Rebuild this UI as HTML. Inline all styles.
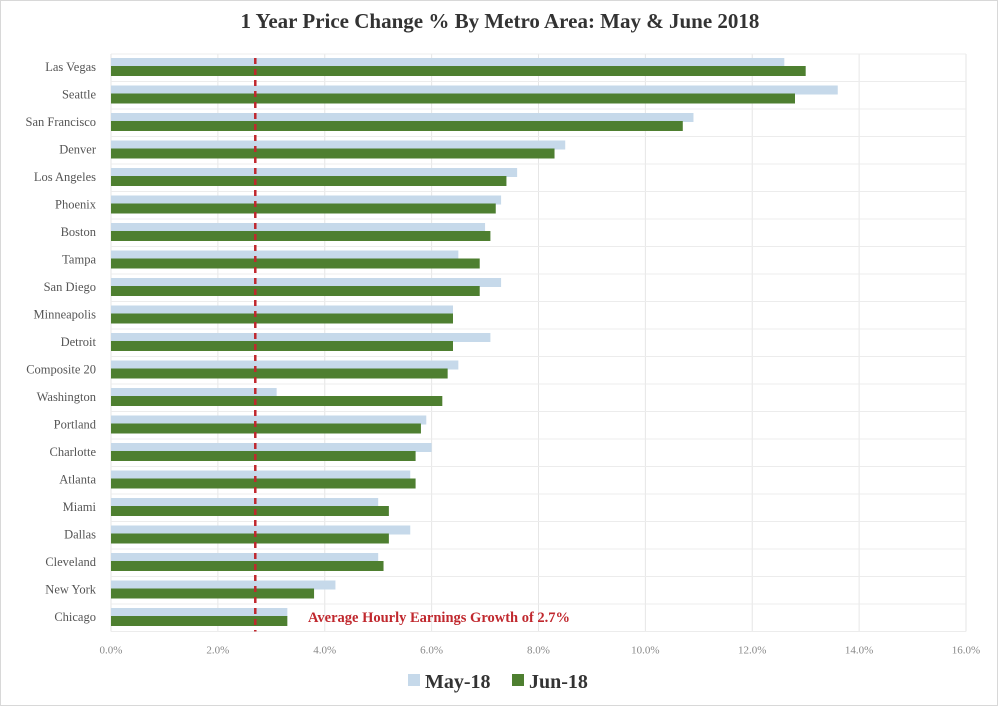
<!DOCTYPE html>
<html><head><meta charset="utf-8"><style>
html,body{margin:0;padding:0;background:#fff;}
svg{display:block;font-family:"Liberation Serif",serif;}
</style></head><body>
<svg id="chart" width="1000" height="709" viewBox="0 0 1000 709">
<rect x="0.5" y="0.5" width="997" height="705" fill="#fff" stroke="#d8d8d8"/>
<text x="500" y="28" text-anchor="middle" font-size="21" font-weight="bold" fill="#333">1 Year Price Change % By Metro Area: May &amp; June 2018</text>
<g id="grid"></g><g id="bars"></g><g id="labels"></g>
<text x="308" y="622" font-size="14.5" font-weight="bold" fill="#c0282e">Average Hourly Earnings Growth of 2.7%</text>
<g>
<rect x="408" y="674" width="12" height="12" fill="#c6d9ea"/>
<text x="425" y="688" font-size="20" font-weight="bold" fill="#333">May-18</text>
<rect x="512" y="674" width="12" height="12" fill="#4e7f30"/>
<text x="529" y="688" font-size="20" font-weight="bold" fill="#333">Jun-18</text>
</g>
</svg>
<script>
const categories=["Las Vegas","Seattle","San Francisco","Denver","Los Angeles","Phoenix","Boston","Tampa","San Diego","Minneapolis","Detroit","Composite 20","Washington","Portland","Charlotte","Atlanta","Miami","Dallas","Cleveland","New York","Chicago"];
const may18=[12.6,13.6,10.9,8.5,7.6,7.3,7.0,6.5,7.3,6.4,7.1,6.5,3.1,5.9,6.0,5.6,5.0,5.6,5.0,4.2,3.3];
const jun18=[13.0,12.8,10.7,8.3,7.4,7.2,7.1,6.9,6.9,6.4,6.4,6.3,6.2,5.8,5.7,5.7,5.2,5.2,5.1,3.8,3.3];
const xTicks=[0,2,4,6,8,10,12,14,16];
const xTickLabels=["0.0%","2.0%","4.0%","6.0%","8.0%","10.0%","12.0%","14.0%","16.0%"];
const earningsGrowth=[2.7];

const NS="http://www.w3.org/2000/svg";
const x0=111,x1=966,xMax=16,yTop=54,pitch=27.5;
const xs=v=>x0+(v/xMax)*(x1-x0);
const ys=i=>yTop+i*pitch;
function mk(tag,attrs,parent){const e=document.createElementNS(NS,tag);for(const k in attrs)e.setAttribute(k,attrs[k]);parent.appendChild(e);return e;}
const grid=document.getElementById('grid'),bars=document.getElementById('bars'),labels=document.getElementById('labels');
const bottom=ys(categories.length);
xTicks.forEach((t,i)=>{
  const l=mk('line',{x1:xs(t),x2:xs(t),y1:yTop,y2:bottom,stroke:'#e6e6e6','stroke-width':1},grid);
  
  
  const tx=mk('text',{x:xs(t),y:bottom+22,'text-anchor':'middle','font-size':11,fill:'#888'},labels);
  tx.textContent=xTickLabels[i];
  
  
});
for(let i=0;i<=categories.length;i++){
  const l=mk('line',{x1:x0,x2:x1,y1:ys(i),y2:ys(i),stroke:'#ececec','stroke-width':1},grid);
  
  
}
categories.forEach((c,i)=>{
  const y=ys(i);
  const b1=mk('rect',{x:x0,y:y+4,width:xs(may18[i])-x0,height:9,fill:'#c6d9ea'},bars);
  
  
  const b2=mk('rect',{x:x0,y:y+12,width:xs(jun18[i])-x0,height:10,fill:'#4e7f30'},bars);
  
  
  const t=mk('text',{x:96,y:y+17,'text-anchor':'end','font-size':12.5,fill:'#555'},labels);
  t.textContent=c;
  
  
});
const ref=mk('line',{x1:xs(earningsGrowth[0]),x2:xs(earningsGrowth[0]),y1:yTop+4,y2:bottom,stroke:'#c0282e','stroke-width':2.5,'stroke-dasharray':'6,5'},bars);


</script>
</body></html>
